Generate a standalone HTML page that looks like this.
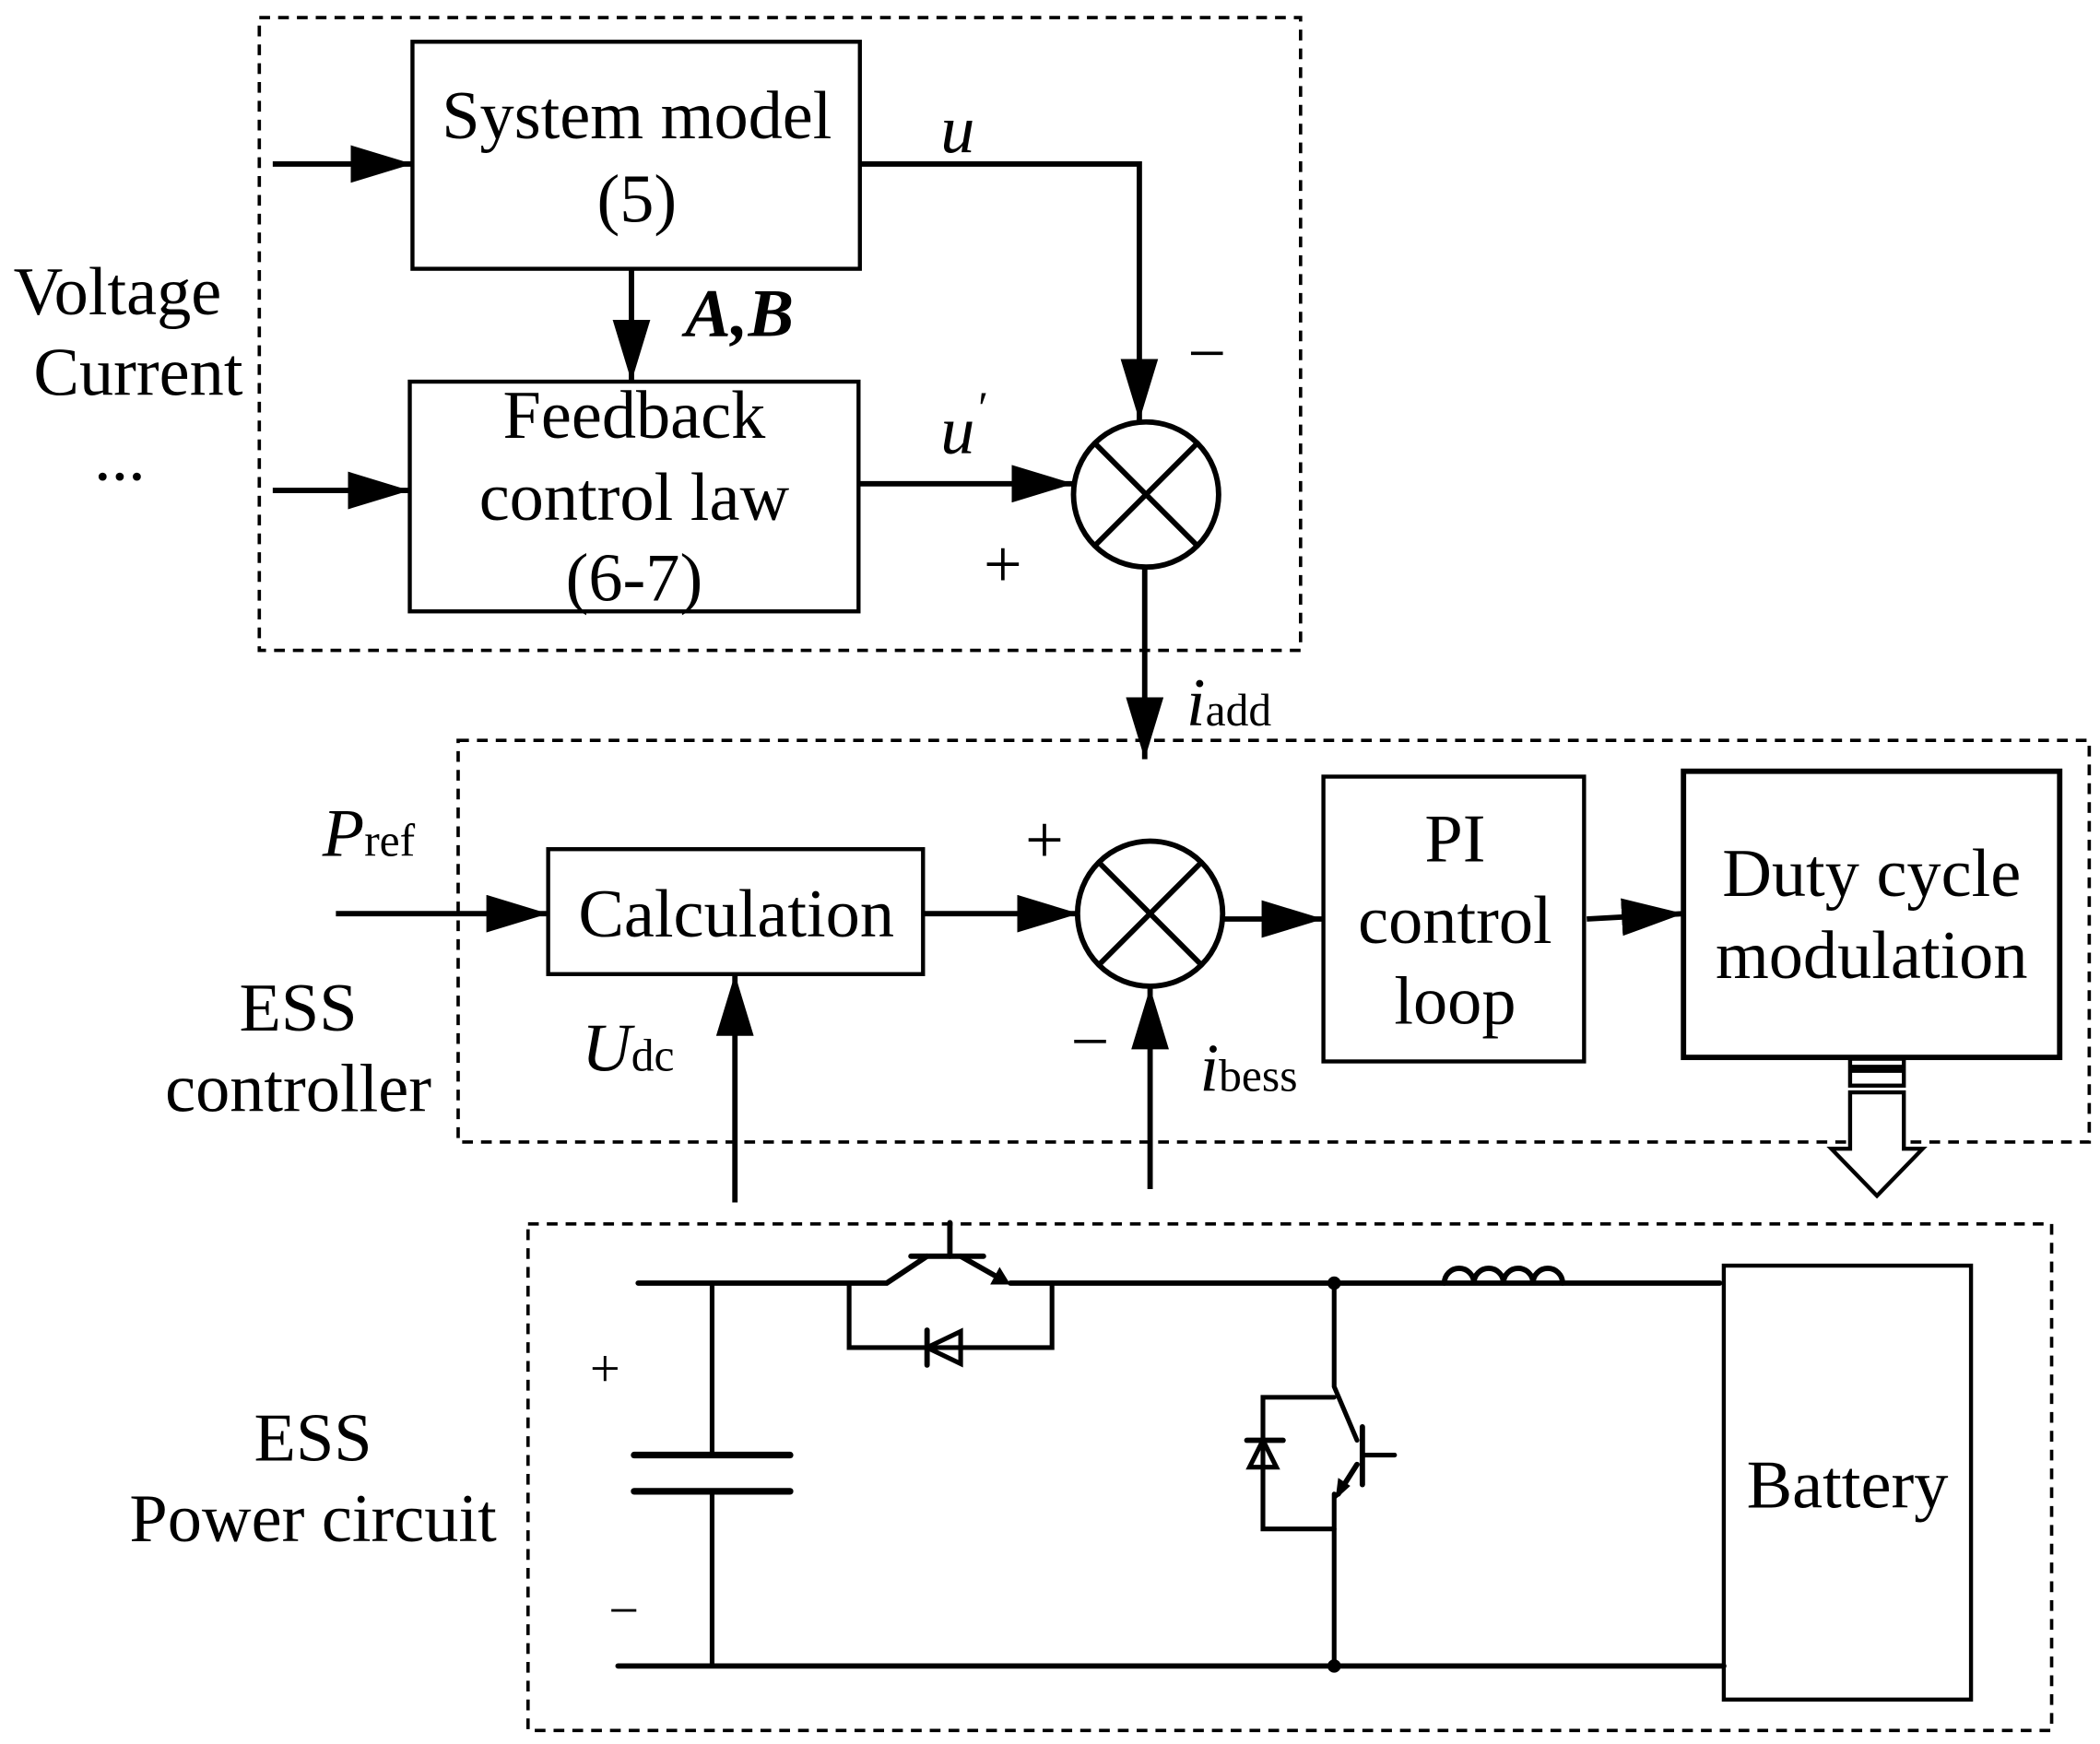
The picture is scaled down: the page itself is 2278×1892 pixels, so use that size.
<!DOCTYPE html>
<html><head><meta charset="utf-8"><style>
html,body{margin:0;padding:0;background:#fff;}
svg{display:block;}
text{font-family:"Liberation Serif",serif;fill:#000;}
</style></head><body>
<svg width="2278" height="1892" viewBox="0 0 1563 1298" xmlns="http://www.w3.org/2000/svg">
<defs>
<marker id="ah" markerWidth="46" markerHeight="28" refX="46" refY="14" orient="auto" markerUnits="userSpaceOnUse">
<path d="M0,0 L46,14 L0,28 Z" fill="#000"/>
</marker>
</defs>
<g fill="none" stroke="#000" stroke-width="2.5" stroke-dasharray="8,6">
<rect x="193" y="13" width="775" height="471"/>
<rect x="341" y="551" width="1214" height="299"/>
<rect x="393" y="911" width="1134" height="377"/>
</g>
<g fill="none" stroke="#000" stroke-width="3">
<rect x="307" y="31" width="333" height="169"/>
<rect x="305" y="284" width="334" height="171"/>
<rect x="408" y="632" width="279" height="93"/>
<rect x="985" y="578" width="194" height="212"/>
<rect x="1253" y="574" width="280" height="213" stroke-width="4"/>
<rect x="1283" y="942" width="184" height="323"/>
<circle cx="853" cy="368" r="54" stroke-width="4"/>
<path d="M815,330 L891,406 M891,330 L815,406" stroke-width="4"/>
<circle cx="856" cy="680" r="54" stroke-width="4"/>
<path d="M818,642 L894,718 M894,642 L818,718" stroke-width="4"/>
</g>
<g fill="none" stroke="#000" stroke-width="4">
<line x1="203" y1="122" x2="307" y2="122" marker-end="url(#ah)"/>
<line x1="203" y1="365" x2="305" y2="365" marker-end="url(#ah)"/>
<line x1="470" y1="200" x2="470" y2="284" marker-end="url(#ah)"/>
<polyline points="640,122 848,122 848,313" marker-end="url(#ah)"/>
<line x1="639" y1="360" x2="799" y2="360" marker-end="url(#ah)"/>
<line x1="852" y1="422" x2="852" y2="565" marker-end="url(#ah)"/>
<line x1="250" y1="680" x2="408" y2="680" marker-end="url(#ah)"/>
<line x1="687" y1="680" x2="803" y2="680" marker-end="url(#ah)"/>
<line x1="910" y1="684" x2="985" y2="684" marker-end="url(#ah)"/>
<line x1="1181" y1="684" x2="1253" y2="680" marker-end="url(#ah)"/>
<line x1="547" y1="895" x2="547" y2="725" marker-end="url(#ah)"/>
<line x1="856" y1="885" x2="856" y2="735" marker-end="url(#ah)"/>
</g>
<g fill="#fff" stroke="#000" stroke-width="3">
<rect x="1377" y="788" width="40" height="6"/>
<rect x="1377" y="797" width="40" height="11"/>
<path d="M1377,813 L1417,813 L1417,855 L1431,855 L1397,890 L1363,855 L1377,855 Z"/>
</g>
<g fill="none" stroke="#000" stroke-width="4" stroke-linecap="round">
<polyline points="475,955 660,955 690,935"/>
<line x1="678" y1="935" x2="732" y2="935"/>
<line x1="707" y1="910" x2="707" y2="935"/>
<line x1="715" y1="935" x2="745" y2="952"/>
<line x1="752" y1="955" x2="1280" y2="955"/>
<polyline points="632,955 632,1003 783,1003 783,955" stroke-width="3.5"/>
<line x1="690" y1="990" x2="690" y2="1016"/>
<path d="M690,1003 L715,991 L715,1015 Z" stroke-width="3.5"/>
<line x1="530" y1="955" x2="530" y2="1083" stroke-width="3.5"/>
<line x1="472" y1="1083" x2="588" y2="1083" stroke-width="5"/>
<line x1="472" y1="1110" x2="588" y2="1110" stroke-width="5"/>
<line x1="530" y1="1110" x2="530" y2="1240" stroke-width="3.5"/>
<line x1="460" y1="1240" x2="1283" y2="1240"/>
<polyline points="993,955 993,1032 1010,1072" stroke-width="3.5"/>
<line x1="1014" y1="1062" x2="1014" y2="1105"/>
<line x1="1014" y1="1083" x2="1038" y2="1083" stroke-width="3.5"/>
<line x1="1010" y1="1090" x2="996" y2="1112"/>
<line x1="993" y1="1112" x2="993" y2="1240" stroke-width="3.5"/>
<polyline points="993,1040 940,1040 940,1138 993,1138" stroke-width="3.5"/>
<line x1="928" y1="1072" x2="955" y2="1072"/>
<path d="M940,1072 L930,1092 L950,1092 Z" stroke-width="3.5"/>
<path d="M1075,955 a11,11 0 0 1 22,0 a11,11 0 0 1 22,0 a11,11 0 0 1 22,0 a11,11 0 0 1 22,0"/>
</g>
<path d="M752,956 L737,956 L744,943 Z" fill="#000"/>
<path d="M994,1116 L996,1100 L1005,1106 Z" fill="#000"/>
<circle cx="993" cy="955" r="5" fill="#000"/>
<circle cx="993" cy="1240" r="5" fill="#000"/>
<g font-size="51" text-anchor="middle">
<text x="474" y="103">System model</text>
<text x="474" y="165">(5)</text>
<text x="472" y="326">Feedback</text>
<text x="472" y="387">control law</text>
<text x="472" y="447">(6-7)</text>
<text x="548" y="697">Calculation</text>
<text x="1083" y="641">PI</text>
<text x="1083" y="702">control</text>
<text x="1083" y="762">loop</text>
<text x="1393" y="667">Duty cycle</text>
<text x="1393" y="728">modulation</text>
<text x="1375" y="1122">Battery</text>
<text x="222" y="767">ESS</text>
<text x="222" y="827">controller</text>
<text x="233" y="1087">ESS</text>
<text x="233" y="1147">Power circuit</text>
</g>
<g font-size="51">
<text x="10" y="234">Voltage</text>
<text x="25" y="294">Current</text>
<text x="70" y="357">...</text>
<text x="510" y="250" font-weight="bold" font-style="italic">A,B</text>
<text x="700" y="113" font-style="italic">u</text>
<text x="700" y="337" font-style="italic">u</text>
<text x="726" y="315" font-size="34" font-style="italic">′</text>
<text x="884" y="280">−</text>
<text x="732" y="437">+</text>
<text x="883" y="540" font-style="italic">i<tspan font-size="34" font-style="normal">add</tspan></text>
<text x="240" y="637" font-style="italic">P<tspan font-size="34" font-style="normal">ref</tspan></text>
<text x="763" y="642">+</text>
<text x="797" y="792">−</text>
<text x="433" y="797" font-style="italic">U<tspan font-size="34" font-style="normal">dc</tspan></text>
<text x="893" y="812" font-style="italic">i<tspan font-size="34" font-style="normal">bess</tspan></text>
<text x="439" y="1032" font-size="40">+</text>
<text x="453" y="1212" font-size="40">−</text>
</g>
</svg>
</body></html>
